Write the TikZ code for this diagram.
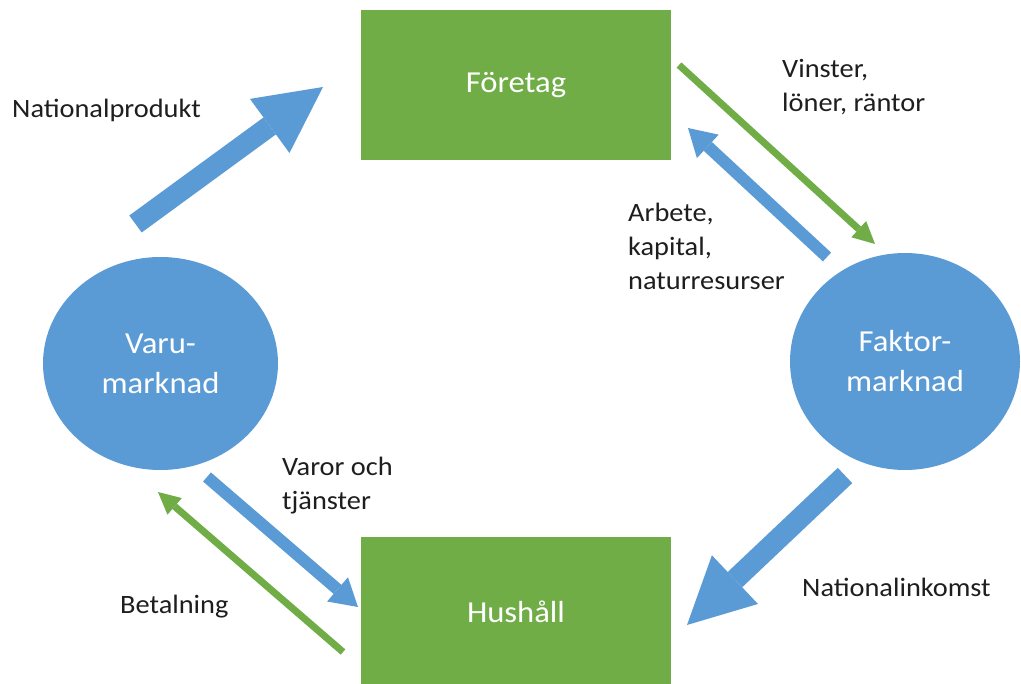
\documentclass[tikz,border=0pt]{standalone}
\usepackage{fontspec}
\usepackage{graphicx}
\setmainfont{Carlito}
\usetikzlibrary{arrows.meta,shapes.geometric}
\definecolor{obl}{HTML}{5B9BD5}
\definecolor{ogr}{HTML}{70AD47}
\definecolor{txtc}{HTML}{1E1E1E}
\newcommand\sx[1]{\scalebox{1.07}[1]{#1}}
\begin{document}
\begin{tikzpicture}[x=1pt,y=-1pt,
  lbl/.style={font=\fontsize{26.5pt}{34pt}\selectfont, text=txtc, inner sep=0pt, anchor=base west, align=left},
  boxnode/.style={rectangle, fill=ogr, draw=none, minimum width=310pt, minimum height=150pt, inner sep=0pt, text=white, font=\fontsize{30.5pt}{40pt}\selectfont},
  mkt/.style={ellipse, fill=obl, draw=none, inner sep=0pt, text=white, align=center, font=\fontsize{30.5pt}{40pt}\selectfont},
  fatarrow/.style={draw=obl, line width=21pt, line cap=butt, -{Triangle[length=66pt, width=67pt, line width=0pt, fill=obl]}},
  bluearrow/.style={draw=obl, line width=12pt, line cap=butt, -{Triangle[length=27pt, width=32pt, line width=0pt, fill=obl]}},
  greenarrow/.style={draw=ogr, line width=7pt, line cap=butt, -{Triangle[length=22pt, width=22pt, line width=0pt, fill=ogr]}}]
\clip (0,0) rectangle (1021,684);
\fill[white] (0,0) rectangle (1021,684);
% shapes
\node[boxnode] (foretag) at (516,85) {\sx{Företag}};
\node[boxnode] (hushall) at (516,612) {\sx{Hushåll}};
\node[mkt, minimum width=235pt, minimum height=213pt] (varu) at (160.5,363.5) {\sx{Varu-}\\\sx{marknad}};
\node[mkt, minimum width=230pt, minimum height=217pt] (faktor) at (905,361.5) {\sx{Faktor-}\\\sx{marknad}};
% arrow end points
\coordinate (np1) at (135.5,224);
\coordinate (np2) at (323,87);
\coordinate (ni1) at (845,475.5);
\coordinate (ni2) at (687,625);
\coordinate (vi1) at (679,65);
\coordinate (vi2) at (875,244);
\coordinate (ar1) at (827,257);
\coordinate (ar2) at (688,128);
\coordinate (vo1) at (207,477);
\coordinate (vo2) at (358,607);
\coordinate (be1) at (343,652);
\coordinate (be2) at (158,492);
\draw[fatarrow] (np1) -- (np2);
\draw[fatarrow] (ni1) -- (ni2);
\draw[greenarrow] (vi1) -- (vi2);
\draw[bluearrow] (ar1) -- (ar2);
\draw[bluearrow] (vo1) -- (vo2);
\draw[greenarrow] (be1) -- (be2);
% labels (base anchor = baseline of the last line)
\node[lbl] (lnp) at (12,118) {\sx{Nationalprodukt}};
\node[lbl] (lni) at (802,596) {\sx{Nationalinkomst}};
\node[lbl] (lvi) at (782,112) {\sx{Vinster,}\\\sx{löner, räntor}};
\node[lbl] (lar) at (628,290) {\sx{Arbete,}\\\sx{kapital,}\\\sx{naturresurser}};
\node[lbl] (lvo) at (282,510) {\sx{Varor och}\\\sx{tjänster}};
\node[lbl] (lbe) at (120,613) {\sx{Betalning}};
\end{tikzpicture}
\end{document}
